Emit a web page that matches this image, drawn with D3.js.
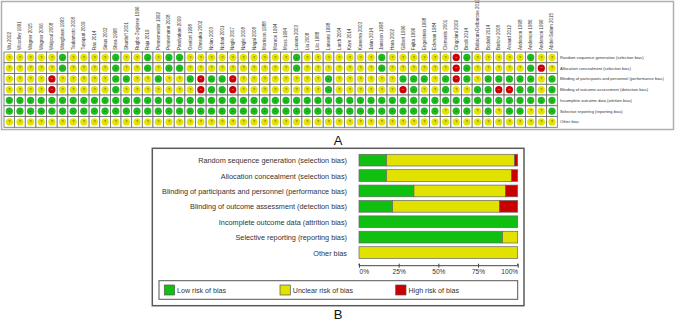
<!DOCTYPE html>
<html><head><meta charset="utf-8">
<script src="https://cdn.jsdelivr.net/npm/d3@7"></script>
<style>body{margin:0;background:#fff}svg{display:block}</style>
</head><body><svg id="c" width="676" height="321"></svg>
<script>
// ---------- DATA ----------
const studies = ["Wu 2002","Woodley 1991","Wagner 2015","Wagner 2006","Walpoul 2008","Wangbaen 1993","Tsukamoto 2008","Tuyapuri 2009","Rao 2014","Sinus 2002","Shea 1998","Shurtleff 2001","Rugbo-Zeglerse 1996","Raja 2019","Pennemester 1992","Pennemann 2008","Pandyakan 2009","Oestort 1998","Ohnsaka 2002","Nolan 2003","Nobari 2001","Nagle 2007","Nagle 2008","Nagai 2008","Morrison 1988","Monroe 1994","Moss 1994","Lusara 2003","Liu 2008","Lilo 1988","Laneste 1998","Larch 2004","Kaye 2014","Kanema 2003","Jalan 2014","Jansson 1998","Hara 2002","Gilbert 1996","Fujita 1996","Engelstein 1998","Eckman 1984","Clements 2001","Cingolani 2009","Brodt 2014","Babacan-Delbarose 2013","Bodahl 2014","Barlow 2008","Awaad 2012","Anderson 1998","Anderson 1986","Anderson 1996","Abdel-Salam 2015"];
const domainsA = ["Random sequence generation (selection bias)","Allocation concealment (selection bias)","Blinding of participants and personnel (performance bias)","Blinding of outcome assessment (detection bias)","Incomplete outcome data (attrition bias)","Selective reporting (reporting bias)","Other bias"];
// L = low, U = unclear, H = high (one letter per study, same order as studies)
const randomSequence   = "UUUUULUUUU"+"LUULULLUUU"+"UUUUUUULUU"+"UUUUULUUUU"+"UUHLUUUUUL"+"UU";
const allocation       = "UUUUULUUUU"+"LUULULLUUU"+"UUUUUUULUU"+"UUUUULUUUU"+"UUHLUUUUUL"+"HU";
const blindingPart     = "UUUUHUUUUU"+"LLUULUULHL"+"LHUUUUUUUU"+"LUUUUUULLL"+"ULHLULLLLL"+"UL";
const blindingOutcome  = "UUUUHUUUUU"+"LUUUUUUUHL"+"LHUUUUUUUU"+"LUUUUUUHLU"+"ULUULLHHLL"+"UL";
const incomplete       = "LLLLLLLLLL"+"LLLLLLLLLL"+"LLLLLLLLLL"+"LLLLLLLLLL"+"LLLLLLLLLL"+"LL";
const selective        = "LLLLLLLLLL"+"LLLLLLLLLL"+"LLLLLLLLLL"+"LLLLLLLLLL"+"LULLULULLU"+"UL";
const otherBias        = "UUUUUUUUUU"+"UUUUUUUUUU"+"UUUUUUUUUU"+"UUUUUUUUUU"+"UUUUUUUUUU"+"UU";
const judgementRows = [randomSequence, allocation, blindingPart, blindingOutcome, incomplete, selective, otherBias];
const levels = ["L","U","H"];
const legendLabels = ["Low risk of bias","Unclear risk of bias","High risk of bias"];
const tickValues = [0, 0.25, 0.5, 0.75, 1];
const tickLabels = ["0%","25%","50%","75%","100%"];

// ---------- STYLE ----------
const dotColor = {L:"#1cbc1c", U:"#e4e400", H:"#cc0000"};
const barColor = {L:"#10c010", U:"#e2e200", H:"#c80000"};
const symbol = {L:"+", U:"?", H:"\u2212"};
const font = "Liberation Sans, Arial, sans-serif";

const svg = d3.select("#c");

// ---------- PANEL A ----------
svg.append("rect").attr("x",1.5).attr("y",1.5).attr("width",672).attr("height",128)
  .attr("fill","none").attr("stroke","#b0b0b0").attr("stroke-width",1.5);

const xA = d3.scaleBand().domain(studies).range([4, 557.3]);
const yA = d3.scaleBand().domain(domainsA).range([52, 127.3]);

const cells = [];
judgementRows.forEach((row, ri) => {
  row.split("").forEach((v, ci) => cells.push({study: studies[ci], domain: domainsA[ri], v}));
});

const gA = svg.append("g");
gA.selectAll("rect.cell").data(cells).join("rect").attr("class","cell")
  .attr("x", d => xA(d.study)).attr("y", d => yA(d.domain))
  .attr("width", xA.bandwidth()).attr("height", yA.bandwidth())
  .attr("fill","#fff").attr("stroke","#6a6a6a").attr("stroke-width",0.8);

gA.selectAll("circle.dot").data(cells).join("circle").attr("class","dot")
  .attr("cx", d => xA(d.study) + xA.bandwidth()/2)
  .attr("cy", d => yA(d.domain) + yA.bandwidth()/2)
  .attr("r", 3.6).attr("fill", d => dotColor[d.v]);

gA.selectAll("text.sym").data(cells).join("text").attr("class","sym")
  .attr("x", d => xA(d.study) + xA.bandwidth()/2)
  .attr("y", d => yA(d.domain) + yA.bandwidth()/2 + 1.3)
  .attr("text-anchor","middle").attr("font-family",font).attr("font-size",3.6)
  .attr("fill", d => d.v === "H" ? "#fff" : "#333").text(d => symbol[d.v]);

// study names (rotated)
gA.selectAll("text.study").data(studies).join("text").attr("class","study")
  .attr("transform", d => `translate(${xA(d) + xA.bandwidth()/2 + 1.5},50) rotate(-90)`)
  .attr("font-family",font).attr("font-size",4.5).attr("fill","#333").text(d => d);

// domain labels
gA.selectAll("text.dom").data(domainsA).join("text").attr("class","dom")
  .attr("x", 560).attr("y", d => yA(d) + yA.bandwidth()/2 + 1.5)
  .attr("font-family",font).attr("font-size",4.1).attr("fill","#333").text(d => d);

svg.append("text").attr("x",338).attr("y",144.5).attr("text-anchor","middle")
  .attr("font-family",font).attr("font-size",13).attr("fill","#111").text("A");

// ---------- PANEL B ----------
svg.append("rect").attr("x",152.3).attr("y",148.3).attr("width",371.7).attr("height",157.4)
  .attr("fill","none").attr("stroke","#5a5a5a").attr("stroke-width",1.5);

const xB = d3.scaleLinear().domain([0,1]).range([359, 517.7]);
const yB = d3.scaleBand().domain(domainsA).range([152.45, 260.25]).paddingInner(0.24).paddingOuter(0.12);

const segs = [];
judgementRows.forEach((row, ri) => {
  const arr = row.split("");
  let acc = 0;
  levels.forEach(l => {
    const frac = arr.filter(v => v === l).length / arr.length;
    if (frac > 0) segs.push({domain: domainsA[ri], l, x0: acc, x1: acc + frac});
    acc += frac;
  });
});

const gB = svg.append("g");
gB.selectAll("rect.seg").data(segs).join("rect").attr("class","seg")
  .attr("x", d => xB(d.x0)).attr("y", d => yB(d.domain))
  .attr("width", d => xB(d.x1) - xB(d.x0)).attr("height", yB.bandwidth())
  .attr("fill", d => barColor[d.l]).attr("stroke","#666").attr("stroke-width",0.7);

gB.selectAll("text.lab").data(domainsA).join("text").attr("class","lab")
  .attr("x", 347).attr("y", d => yB(d) + yB.bandwidth()/2 + 3)
  .attr("text-anchor","end").attr("font-family",font).attr("font-size",7.3).attr("fill","#333").text(d => d);

// axis
const axis = d3.axisBottom(xB).tickValues(tickValues).tickSize(3).tickFormat((d,i) => tickLabels[i]);
const gAx = svg.append("g").attr("transform","translate(0,265.7)").call(axis);
gAx.select(".domain").attr("stroke","#444").attr("d", `M${xB(0)},-2V0H${xB(1)}V-2`);
gAx.selectAll(".tick line").attr("stroke","#444").attr("y1",-2).attr("y2",2);
gAx.selectAll(".tick text").attr("font-family",font).attr("font-size",6.6).attr("fill","#333").attr("dy","0.6em").attr("y",4)
  .attr("text-anchor", (d,i) => i === 0 ? "start" : (i === tickValues.length-1 ? "end" : "middle"))
  .attr("dx", 0);

// legend
svg.append("rect").attr("x",159).attr("y",280.7).attr("width",358.7).attr("height",18.6)
  .attr("fill","none").attr("stroke","#555").attr("stroke-width",1);
const legX = d3.scalePoint().domain(levels).range([164.3, 395.7]);
const leg = svg.append("g").selectAll("g").data(levels).join("g")
  .attr("transform", d => `translate(${legX(d)},285)`);
leg.append("rect").attr("width",10.3).attr("height",10).attr("fill", d => barColor[d]).attr("stroke","#555").attr("stroke-width",0.7);
leg.append("text").attr("x",12.8).attr("y",8.4).attr("font-family",font).attr("font-size",7.1).attr("fill","#333")
  .text((d,i) => legendLabels[i]);

svg.append("text").attr("x",338).attr("y",319).attr("text-anchor","middle")
  .attr("font-family",font).attr("font-size",13).attr("fill","#111").text("B");
</script></body></html>
